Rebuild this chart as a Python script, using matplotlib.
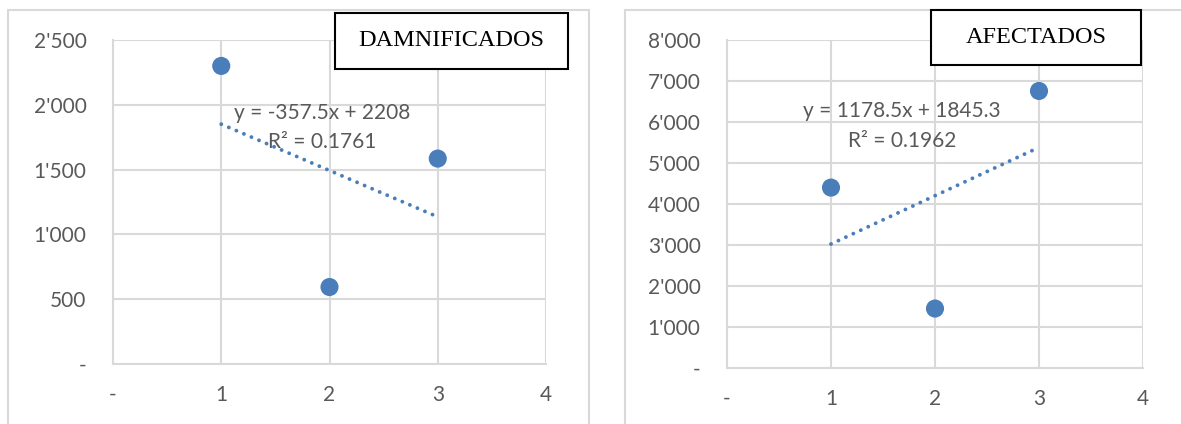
import numpy as np
import matplotlib
matplotlib.use("Agg")
import matplotlib.pyplot as plt
from matplotlib.ticker import FuncFormatter, MultipleLocator
from matplotlib.patches import Rectangle

# Data
x_vals = [1, 2, 3]
damnificados = [2300, 594, 1585]
afectados = [4400, 1450, 6757]

titles = ["DAMNIFICADOS", "AFECTADOS"]
eq_left = ["y = -357.5x + 2208", "R² = 0.1761"]
eq_right = ["y = 1178.5x + 1845.3", "R² = 0.1962"]

BLUE = "#4a7ebb"
GRID = "#d9d9d9"
TXT = "#595959"
FONT = "Lato"

fig = plt.figure(figsize=(11.81, 4.24), dpi=100)


def thousands(v, pos):
    if abs(v) < 1e-9:
        return "-"
    return f"{int(round(v)):,}".replace(",", "'")


def xfmt(v, pos):
    if abs(v) < 1e-9:
        return "-"
    return f"{int(round(v))}"


def panel(rect, y, ymax, ystep, frame, title, tbox, eq, eqpos):
    # outer chart frame
    fig.patches.append(Rectangle((frame[0], frame[1]), frame[2], frame[3],
                                 transform=fig.transFigure, fill=False,
                                 edgecolor="#d9d9d9", linewidth=1.5))
    ax = fig.add_axes(rect)
    ax.set_xlim(0, 4)
    ax.set_ylim(0, ymax)
    ax.xaxis.set_major_locator(MultipleLocator(1))
    ax.yaxis.set_major_locator(MultipleLocator(ystep))
    ax.xaxis.set_major_formatter(FuncFormatter(xfmt))
    ax.yaxis.set_major_formatter(FuncFormatter(thousands))
    ax.grid(True, color=GRID, linewidth=1.5)
    ax.set_axisbelow(True)
    for s in ["top", "right"]:
        ax.spines[s].set_visible(False)
    for s in ["left", "bottom"]:
        ax.spines[s].set_color(GRID)
        ax.spines[s].set_linewidth(1.5)
    ax.tick_params(length=0, labelsize=15, labelcolor=TXT)
    ax.tick_params(axis="y", pad=19)
    ax.tick_params(axis="x", pad=15)
    for lab in ax.get_xticklabels() + ax.get_yticklabels():
        lab.set_fontfamily(FONT)

    # linear trendline (round dots)
    xs = np.array(x_vals, dtype=float)
    ys = np.array(y, dtype=float)
    m, b = np.polyfit(xs, ys, 1)
    ax.plot([xs.min(), xs.max()], [m * xs.min() + b, m * xs.max() + b],
            linestyle=(0, (0.01, 2.1)), color=BLUE, linewidth=2.8,
            dash_capstyle="round", zorder=2)
    ax.scatter(xs, ys, s=170, color=BLUE, zorder=3, edgecolors="none")

    for (ex, ey), line in zip(eqpos, eq):
        ax.text(ex, ey, line, transform=ax.transData, ha="center",
                va="center", fontsize=15, color=TXT, family=FONT)

    # title box
    fig.patches.append(Rectangle((tbox[0], tbox[1]), tbox[2], tbox[3],
                                 transform=fig.transFigure, facecolor="white",
                                 edgecolor="black", linewidth=1.5, zorder=5))
    fig.text(tbox[0] + tbox[2] / 2, tbox[1] + tbox[3] / 2, title,
             ha="center", va="center", fontsize=17.5,
             family="Liberation Serif", color="black", zorder=6)
    return ax


W, H = 1181, 424


def fr(x0, y0, x1, y1):
    return (x0 / W, 1 - y1 / H, (x1 - x0) / W, (y1 - y0) / H)


panel(fr(113, 40, 546, 364), damnificados, 2500, 500,
      fr(8, 10, 589, 430), titles[0], fr(335, 13, 568, 69),
      eq_left, [(1.93, 1937), (1.93, 1713)])

panel(fr(727, 40, 1143, 368), afectados, 8000, 1000,
      fr(625, 10, 1190, 430), titles[1], fr(931, 10, 1141, 65),
      eq_right, [(1.68, 6268), (1.68, 5537)])

fig.savefig("out.png", dpi=100)
